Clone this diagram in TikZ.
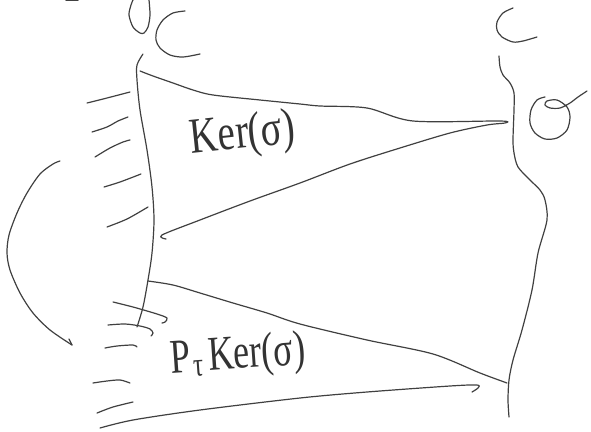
\documentclass[tikz,border=0pt]{standalone}
\usepackage{fontspec}
\newfontfamily\labfont{Liberation Serif}
\begin{document}
\begin{tikzpicture}[x=1pt,y=-1pt,
  pen/.style={draw=black!75,line width=1.2pt,line cap=round,line join=round},
  hand/.style={font=\labfont\fontsize{36}{36}\selectfont,text=black!80,inner sep=0pt}]
\useasboundingbox (0,0) rectangle (591,431);

% stray mark at the top edge
\draw[pen] (66,0.8) -- (78,0.8);

% top-left "0" and "C"
\draw[pen] plot[smooth] coordinates {(149,0) (150,15) (148,27) (144,33) (140,33) (133,27) (129,15) (131,5) (133,0)};
\draw[pen] plot[smooth] coordinates {(185,11) (173,13) (163,20) (157,30) (156,40) (160,48) (170,55) (183,57) (200,54)};

% left axis
\draw[pen] plot[smooth] coordinates {(143,54) (137,65) (137,80) (140,110) (147,150) (152,187) (154,220) (152,253) (148,280) (143,307) (137,327)};

% top-right "C" and sigma
\draw[pen] plot[smooth] coordinates {(513,8) (503,13) (497,22) (497,30) (502,37) (513,42) (523,41) (537,37)};
\draw[pen] plot[smooth] coordinates {(545,97) (537,100) (531,110) (530,123) (535,133) (545,139) (557,138) (567,130) (570,117) (567,107) (557,100) (547,101) (545,105) (550,108) (560,108) (570,103) (578,97) (587,91)};

% right axis
\draw[pen] plot[smooth] coordinates {(499,56) (500,67) (503,75) (510,83) (514,93) (514,110) (513,140) (514,153) (518,167) (530,180) (540,190) (545,200) (547,220) (538,253) (532,290) (522,330) (513,360) (509,380) (508,400) (509,417)};

% wedge of Ker(sigma)
\draw[pen] plot[smooth] coordinates {(140,71) (153,76) (173,83) (193,90) (213,95) (260,100) (300,104) (320,106) (367,108) (413,121) (500,121) (505,123) (487,125) (450,133) (400,148) (350,164) (300,183) (250,201) (200,220) (162,235) (166,239)};

% wedge of P_tau Ker(sigma)
\draw[pen] plot[smooth] coordinates {(148,281) (173,285) (200,293) (233,303) (267,313) (300,324) (367,340) (433,354) (480,373) (507,383)};
\draw[pen] plot[smooth] coordinates {(100,428) (133,420) (200,410) (300,398) (367,392) (450,386) (477,385) (478,388) (472,392)};

% hatching left of the axis
\draw[pen] plot[smooth] coordinates {(87,103) (107,98) (130,92)};
\draw[pen] plot[smooth] coordinates {(92,132) (107,127) (118,121) (128,117)};
\draw[pen] plot[smooth] coordinates {(95,157) (110,148) (123,142) (130,140)};
\draw[pen] plot[smooth] coordinates {(104,187) (120,182) (141,174)};
\draw[pen] plot[smooth] coordinates {(107,227) (127,219) (148,207)};
\draw[pen] plot[smooth] coordinates {(113,302) (133,307) (157,314) (167,318) (165,322) (162,323)};
\draw[pen] plot[smooth] coordinates {(108,325) (125,324) (140,326) (150,329) (153,333) (151,336)};
\draw[pen] plot[smooth] coordinates {(105,348) (117,346) (133,345) (137,347)};
\draw[pen] plot[smooth] coordinates {(93,383) (107,381) (120,380) (130,383)};
\draw[pen] plot[smooth] coordinates {(97,413) (113,407) (133,402)};

% curved arrow on the far left
\draw[pen] plot[smooth] coordinates {(60,161) (53,164) (40,174) (27,193) (17,213) (9,235) (7,253) (10,270) (20,293) (33,313) (50,330) (72,345)};
\draw[pen] (72,345) -- (69,339);

% labels
\node[hand,rotate=6] (ker) at (243,136) {\scalebox{1.08}[1.4]{Ker(σ)}};
\node[hand,rotate=4] (pker) at (238,357) {\scalebox{1.0}[1.35]{P\hspace{2pt}\textsubscript{τ}\hspace{5pt}Ker(σ)}};
\end{tikzpicture}
\end{document}
